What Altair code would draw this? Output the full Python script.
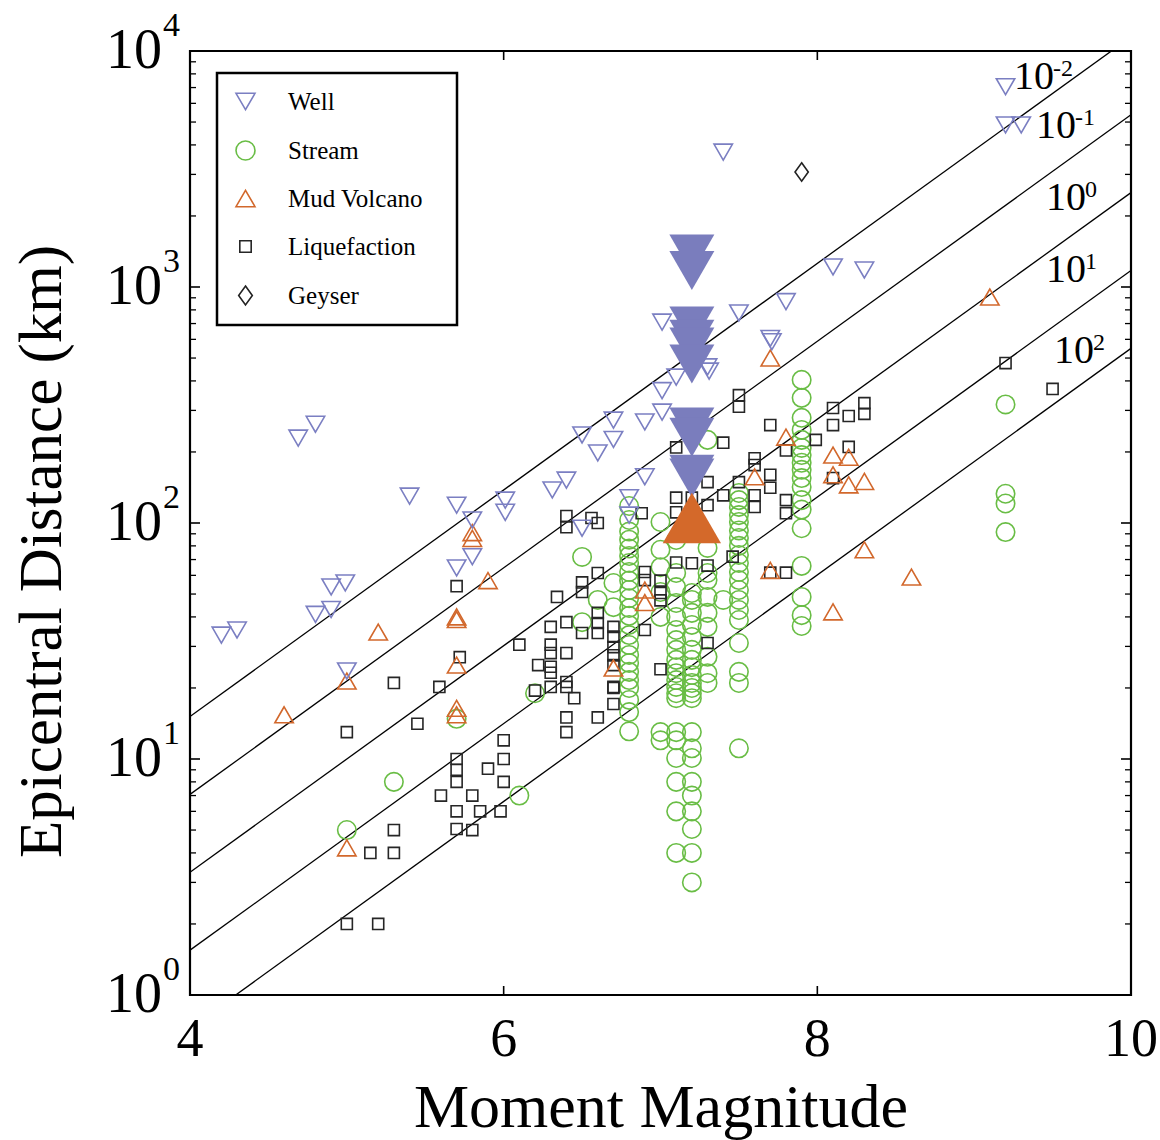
import math
import altair as alt
import pandas as pd

FONT = "Liberation Serif"
W, H = 941, 944

TYPES = ["Well", "Stream", "Mud Volcano", "Liquefaction", "Geyser"]
COLORS = ["#7b7fc2", "#69bd45", "#d2682c", "#262626", "#222222"]
SHAPES = ["triangle-down", "circle", "triangle-up",
          "M-0.6,-0.6L0.6,-0.6L0.6,0.6L-0.6,0.6Z",
          "M0,-1L0.72,0L0,1L-0.72,0Z"]

# ---------------- data (moment magnitude, epicentral distance km) -------------
well_M = [4.20, 4.30, 4.69, 4.80, 4.80, 4.90, 4.90, 4.99, 5.00, 5.40, 5.70, 5.80,
          5.70, 5.80, 6.01, 6.01, 6.31, 6.40, 6.50, 6.60, 6.70, 6.70, 6.90, 7.01,
          7.01, 7.10, 7.30, 7.31, 6.90, 6.80, 6.80, 6.50, 7.71, 7.40, 7.01, 7.50,
          7.80, 7.70, 8.10, 8.30, 9.20, 9.20, 9.30]
well_r = [33.5, 35.2, 229, 262, 41, 43, 53.6, 55.7, 23.6, 130, 119, 103,
          64.5, 72, 125, 111, 138, 152, 236, 198, 273, 226, 268, 295,
          364, 415, 459, 440, 157, 128, 108, 95, 586, 3730, 710, 776,
          867, 605, 1216, 1180, 7060, 4860, 4860]

stream_cols = {
    6.8: [118, 103, 92, 85, 78, 72.5, 67.7, 62, 57, 52, 48, 43.6, 40.4, 37, 33.5,
          30.4, 27.6, 25.5, 23.4, 21.6, 20, 17.8, 15.8, 13.1],
    7.0: [101, 77, 65, 51, 40, 13, 12],
    7.1: [84.7, 61.4, 53.5, 45.8, 40, 35.2, 31.9, 29, 26.3, 24.5, 23.1, 21.6, 20.2,
          19, 18.1, 13, 12, 10.1, 8.0, 6.0, 4.0],
    7.2: [50.5, 47.2, 41.6, 37, 32.9, 29, 26.3, 24.5, 22.7, 21, 20, 19, 18.1, 13,
          11.1, 10.1, 8, 7.0, 6.0, 5.05, 4.0, 3.0],
    7.3: [225, 78.4, 61.4, 57.3, 48.6, 41.6, 36.3, 27.1, 23.1, 21],
    7.4: [47.2],
    7.5: [134, 125, 117, 108, 101, 93, 86.4, 80, 73.2, 67.7, 62, 57.3, 52, 47.2,
          42.8, 38.8, 31, 23.4, 21, 11.1],
    7.9: [404, 339, 279, 248, 225, 208, 194, 180, 168, 155, 142, 125, 114, 95,
          65.8, 48.6, 40.7, 36.6],
    9.2: [318, 133, 121, 91.5],
}
stream_extra_M = [6.5, 6.5, 6.6, 6.7, 6.7, 6.2, 6.1, 5.3, 5.0, 5.7]
stream_extra_r = [71.8, 38, 47.2, 55.7, 44, 19, 7.0, 8.0, 5.0, 14.8]

mud_M = [5.80, 5.80, 5.90, 5.70, 5.70, 5.20, 5.70, 5.00, 4.60, 5.70, 5.70, 5.00,
         7.70, 7.80, 7.60, 6.90, 6.90, 7.70, 6.70, 8.10, 8.20, 8.10, 8.20, 8.30,
         8.30, 8.60, 8.10, 9.10]
mud_r = [91, 86, 57, 40, 39, 34.5, 25, 21.4, 15.4, 16.4, 15.4, 4.2,
         500, 231, 157, 52, 46, 63, 24.3, 194, 190, 160, 145, 150,
         77, 59, 42, 907]

liq_M = [5.00, 5.30, 5.30, 5.30, 5.15, 5.00, 5.20, 5.45, 5.59, 5.60, 5.70, 5.72,
         5.70, 5.70, 5.70, 5.70, 5.70, 5.80, 5.80, 5.85, 5.90, 5.98, 6.00, 6.00,
         6.00, 6.10, 6.22, 6.30, 6.30, 6.30, 6.20, 6.40, 6.40, 6.45, 6.40, 6.40,
         6.60, 6.70, 6.70, 6.70, 7.00, 6.30, 6.30, 6.30, 6.40, 6.40, 6.50, 6.50,
         6.50, 6.34, 6.60, 6.60, 6.60, 6.60, 6.70, 6.70, 6.70, 6.70, 6.70, 6.90,
         6.90, 6.90, 7.00, 7.00, 7.00, 7.10, 7.20, 7.30, 7.46, 7.30, 6.40, 6.40,
         6.56, 6.60, 6.88, 7.10, 7.40, 7.50, 7.50, 7.70, 7.80, 7.99, 7.60, 7.60,
         7.70, 7.70, 7.60, 7.60, 7.80, 7.80, 7.50, 7.40, 7.30, 7.30, 7.10, 7.10,
         7.20, 7.80, 7.70, 8.10, 8.10, 8.20, 8.30, 8.30, 8.20, 8.10, 9.20, 9.50]
liq_r = [13.0, 21, 5.0, 4.0, 4.0, 2.0, 2.0, 14.1, 20.2, 7.0, 54, 27,
         10.0, 9.0, 8.0, 6.0, 5.05, 7.0, 5.0, 6.0, 9.1, 6.0, 12.0, 10.0,
         8.0, 30.5, 25, 24.6, 23.2, 20.2, 19.5, 21.2, 20.2, 18.1, 15.0, 13.0,
         15.0, 25, 20.2, 17.1, 24, 36.3, 30.5, 28.1, 38, 28.1, 56, 51,
         34.2, 48.6, 61.4, 41.6, 37.7, 34.2, 36.3, 33, 29.8, 27.5, 20, 62,
         57.3, 35.2, 57, 50.5, 47, 68, 67.5, 66, 72, 31, 107, 96,
         105, 100, 110, 209, 219, 348, 311, 260, 203, 225, 188, 176,
         160, 141, 131, 117, 125, 110, 149, 131, 149, 119, 128, 111,
         128, 61.6, 61.6, 307, 260, 284, 322, 290, 210, 155, 476, 370]

geyser_M = [7.90]
geyser_r = [3070]

big_well_M = [7.2, 7.2, 7.2, 7.2, 7.2, 7.2, 7.2, 7.2, 7.2, 7.2]
big_well_r = [1380, 1175, 684, 600, 557, 472, 255, 231, 161, 155]
big_mud_M = [7.2]
big_mud_r = [105]

# energy-density lines: log r = SLOPE*M + EXP_COEF*log10(e) + INTERCEPT
LINE_E = [0.01, 0.1, 1, 10, 100]
SLOPE, EXP_COEF, INTERCEPT = 0.48, -0.33, -1.4
LINE_LABEL_M = [9.382, 9.522, 9.586, 9.586, 9.637]
LINE_LABEL_R = [7762, 4810, 2383, 1180, 535]
LINE_LABEL_EXP = ["-2", "-1", "0", "1", "2"]

Y_TICKS = [1, 10, 100, 1000, 10000]
Y_TICK_EXP = ["0", "1", "2", "3", "4"]
Y_MINOR = [m * d for d in [1, 10, 100, 1000] for m in range(2, 10)]
X_TICKS = [4, 6, 8, 10]
X_TICK_LABELS = ["4", "6", "8", "10"]

# ---------------- tables ----------------
rows = []
for m, rs in stream_cols.items():
    for r in rs:
        rows.append(("Stream", m, r))
for m, r in zip(stream_extra_M, stream_extra_r):
    rows.append(("Stream", m, r))
for m, r in zip(liq_M, liq_r):
    rows.append(("Liquefaction", m, r))
for m, r in zip(mud_M, mud_r):
    rows.append(("Mud Volcano", m, r))
for m, r in zip(well_M, well_r):
    rows.append(("Well", m, r))
for m, r in zip(geyser_M, geyser_r):
    rows.append(("Geyser", m, r))
pts = pd.DataFrame(rows, columns=["type", "M", "r"])
pts["ord"] = range(len(pts))

line_rows = []
for e in LINE_E:
    for m in (4.0, 10.0):
        line_rows.append({"e": str(e), "M": m,
                          "r": 10 ** (SLOPE * m + EXP_COEF * math.log10(e) + INTERCEPT)})
lines_df = pd.DataFrame(line_rows)

# ---------------- encodings ----------------
xscale = alt.Scale(domain=[4, 10], nice=False, zero=False)
yscale = alt.Scale(type="log", domain=[1, 10000], nice=False)
xaxis = alt.Axis(title="Moment Magnitude", labels=False, ticks=False, domain=False,
                 grid=False, titleFont=FONT, titleFontSize=62, titleFontWeight="normal",
                 titleColor="black", titlePadding=82)
yaxis = alt.Axis(title="Epicentral Distance (km)", labels=False, ticks=False,
                 domain=False, grid=False, titleFont=FONT, titleFontSize=61,
                 titleFontWeight="normal", titleColor="black", titlePadding=117,
                 titleY=500)


def X(f):
    return alt.X(f, type="quantitative", scale=xscale, axis=xaxis)


def Y(f):
    return alt.Y(f, type="quantitative", scale=yscale, axis=yaxis)


BLANK = "\u2800"
legend = alt.Legend(title=None, orient="none", legendX=27, legendY=22, padding=16,
                    symbolSize=360, symbolStrokeWidth=1.6, labelFont=FONT,
                    labelFontSize=25, labelColor="black", labelOffset=30,
                    labelLimit=400, rowPadding=22, strokeColor="black",
                    fillColor="white", labelExpr="datum.label + '" + BLANK + "'")

lines = alt.Chart(lines_df).mark_line(clip=True, color="black", strokeWidth=1.3).encode(
    x=X("M"), y=Y("r"), detail="e:N")

points = alt.Chart(pts).mark_point(filled=False, size=340, strokeWidth=1.6, opacity=1).encode(
    x=X("M"), y=Y("r"),
    shape=alt.Shape("type:N", scale=alt.Scale(domain=TYPES, range=SHAPES), legend=legend),
    color=alt.Color("type:N", scale=alt.Scale(domain=TYPES, range=COLORS), legend=legend),
    order=alt.Order("ord:Q"),
)

big_well = alt.Chart(pd.DataFrame({"M": big_well_M, "r": big_well_r})).mark_point(
    shape="triangle-down", filled=True, size=2025, color="#7a7dbd", opacity=1,
    strokeWidth=0).encode(x=X("M"), y=Y("r"))
big_mud = alt.Chart(pd.DataFrame({"M": big_mud_M, "r": big_mud_r})).mark_point(
    shape="triangle-up", filled=True, size=3400, color="#d4692a", opacity=1,
    strokeWidth=0).encode(x=X("M"), y=Y("r"))

ymaj = pd.DataFrame({"v": Y_TICKS, "base": ["10"] * 5, "exp": Y_TICK_EXP})
ymin = pd.DataFrame({"v": Y_MINOR})
xmaj = pd.DataFrame({"v": X_TICKS, "lab": X_TICK_LABELS})

tick_layers = [
    alt.Chart(ymaj).mark_rule(color="black", strokeWidth=1.6).encode(
        y=Y("v"), x=alt.value(0), x2=alt.value(10)),
    alt.Chart(ymaj).mark_rule(color="black", strokeWidth=1.6).encode(
        y=Y("v"), x=alt.value(W - 10), x2=alt.value(W)),
    alt.Chart(ymin).mark_rule(color="black", strokeWidth=1.3).encode(
        y=Y("v"), x=alt.value(0), x2=alt.value(6)),
    alt.Chart(ymin).mark_rule(color="black", strokeWidth=1.3).encode(
        y=Y("v"), x=alt.value(W - 6), x2=alt.value(W)),
    alt.Chart(xmaj).mark_rule(color="black", strokeWidth=1.6).encode(
        x=X("v"), y=alt.value(H - 9), y2=alt.value(H)),
    alt.Chart(xmaj).mark_rule(color="black", strokeWidth=1.6).encode(
        x=X("v"), y=alt.value(0), y2=alt.value(9)),
]

ylab_base = alt.Chart(ymaj).mark_text(align="right", baseline="middle", font=FONT,
                                      fontSize=56, color="black").encode(
    y=Y("v"), x=alt.value(-28), text="base:N")
ylab_exp = alt.Chart(ymaj).mark_text(align="left", baseline="middle", font=FONT,
                                     fontSize=34, color="black", dy=-25).encode(
    y=Y("v"), x=alt.value(-27), text="exp:N")
xlab = alt.Chart(xmaj).mark_text(align="center", baseline="middle", font=FONT,
                                 fontSize=54, color="black").encode(
    x=X("v"), y=alt.value(H + 45), text="lab:N")

ll = pd.DataFrame({"M": LINE_LABEL_M, "r": LINE_LABEL_R, "base": ["10"] * 5,
                   "exp": LINE_LABEL_EXP})
line_base = alt.Chart(ll).mark_text(align="center", baseline="middle", font=FONT,
                                    fontSize=40, color="black").encode(
    x=X("M"), y=Y("r"), text="base:N")
line_exp = alt.Chart(ll).mark_text(align="left", baseline="middle", font=FONT,
                                   fontSize=24, color="black", dx=19, dy=-8).encode(
    x=X("M"), y=Y("r"), text="exp:N")

chart = alt.layer(
    lines, points, big_well, big_mud, *tick_layers,
    ylab_base, ylab_exp, xlab, line_base, line_exp
).properties(
    width=W, height=H,
    padding={"left": 190, "top": 51, "right": 29, "bottom": 145},
    autosize=alt.AutoSizeParams(type="none"),
    background="white",
).configure_view(
    stroke="black", strokeWidth=2.2
).configure_legend(
    strokeWidth=2.5
)

chart.save("out.html", embed_options={"renderer": "svg", "actions": False})
